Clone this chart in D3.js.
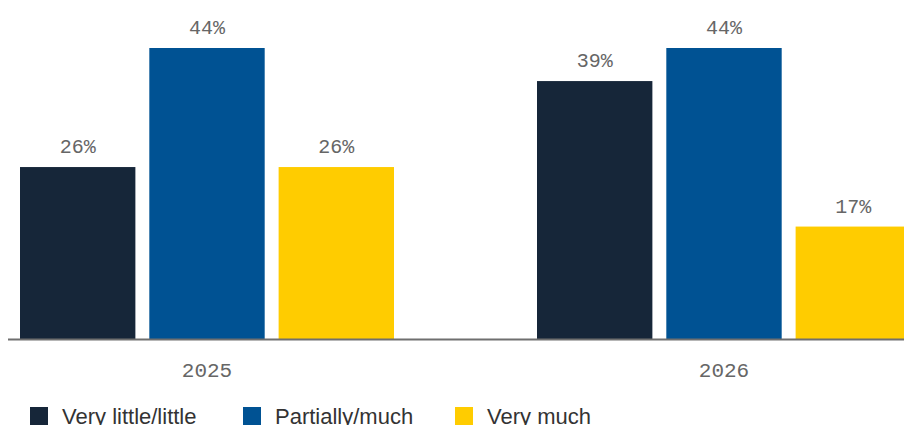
<!DOCTYPE html>
<html>
<head>
<meta charset="utf-8">
<script src="https://cdn.jsdelivr.net/npm/d3@7"></script>
<style>
  html, body { margin: 0; padding: 0; background: #fff; }
  svg { display: block; }
</style>
</head>
<body>
<svg id="chart" width="904" height="425"></svg>
<script>
// Survey answers by year (share of respondents, %)
const years = ["2025", "2026"];
const seriesNames = ["Very little/little", "Partially/much", "Very much"];
const seriesColors = ["#162639", "#005293", "#ffcc00"];
const values2025 = [26, 44, 26];
const values2026 = [39, 44, 17];
const valuesByYear = [values2025, values2026];

const svg = d3.select("#chart");
const baseY = 339;
const monoFont = "'Liberation Mono', 'DejaVu Sans Mono', monospace";

const x0 = d3.scaleBand().domain(years).range([20, 911]).paddingInner(143 / 517).paddingOuter(0);
const x1 = d3.scaleBand().domain(seriesNames).range([0, x0.bandwidth()]).paddingInner(14 / 130).paddingOuter(0);
const y = d3.scaleLinear().domain([0, 44]).range([baseY, 48]);

const rows = years.map((yr, i) => ({
  year: yr,
  items: seriesNames.map((s, j) => ({ series: s, value: valuesByYear[i][j], color: seriesColors[j] }))
}));

const groups = svg.selectAll("g.group").data(rows).join("g")
  .attr("class", "group")
  .attr("transform", d => `translate(${x0(d.year)},0)`);

groups.selectAll("rect").data(d => d.items).join("rect")
  .attr("x", d => x1(d.series))
  .attr("y", d => y(d.value))
  .attr("width", x1.bandwidth())
  .attr("height", d => baseY - y(d.value))
  .attr("fill", d => d.color);

groups.selectAll("text.val").data(d => d.items).join("text")
  .attr("class", "val")
  .attr("x", d => x1(d.series) + x1.bandwidth() / 2)
  .attr("y", d => y(d.value) - 14)
  .attr("text-anchor", "middle")
  .attr("font-family", monoFont)
  .attr("font-size", 20)
  .attr("fill", "#666")
  .text(d => d.value + "%");

// Baseline axis with year labels
const axis = d3.axisBottom(x0).tickSize(0).tickPadding(0);
const axisG = svg.append("g").attr("transform", `translate(0,${baseY})`).call(axis);
axisG.select(".domain").remove();
axisG.selectAll("text")
  .attr("y", 38)
  .attr("dy", null)
  .attr("font-family", monoFont)
  .attr("font-size", 21)
  .attr("fill", "#666");
svg.append("line")
  .attr("x1", 8).attr("x2", 904)
  .attr("y1", baseY + 0.5).attr("y2", baseY + 0.5)
  .attr("stroke", "#6f6f6f").attr("stroke-width", 2);

// Legend
const legendX = [30, 243, 455];
const legend = svg.selectAll("g.legend").data(seriesNames).join("g")
  .attr("class", "legend")
  .attr("transform", (d, i) => `translate(${legendX[i]},407)`);
legend.append("rect")
  .attr("width", 18).attr("height", 18)
  .attr("fill", (d, i) => seriesColors[i]);
legend.append("text")
  .attr("x", 32).attr("y", 17)
  .attr("font-family", "'Liberation Sans', Arial, sans-serif")
  .attr("font-size", 22)
  .attr("fill", "#333")
  .text(d => d);
</script>
</body>
</html>
